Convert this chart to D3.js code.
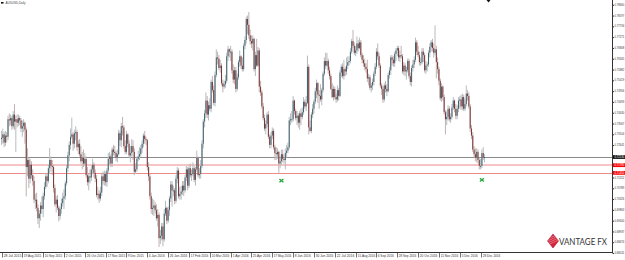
<!DOCTYPE html>
<html><head><meta charset="utf-8">
<script src="https://cdn.jsdelivr.net/npm/d3@7/dist/d3.min.js"></script>
<style>html,body{margin:0;padding:0;background:#fff;}svg{display:block;}</style>
</head><body>
<svg id="c" width="625" height="260"></svg>
<script>
// AUDUSD daily candles, prices in pips (x 1e-4), bar 0 = 28 Jul 2015
const opens=[7290,7295,7310,7275,7305,7300,7375,7370,7380,7345,
7395,7365,7375,7360,7380,7370,7335,7345,7360,7330,
7170,7200,7120,7180,7135,7110,7030,7030,6995,6950,
6970,7005,6990,7045,7085,7130,7110,7165,7200,7175,
7170,7080,7010,7030,6995,6960,6990,7015,7035,7045,
7100,7165,7220,7265,7300,7310,7270,7315,7320,7255,
7270,7225,7195,7210,7185,7205,7135,7105,7130,7125,
7160,7180,7145,7120,7050,7055,7035,7060,7130,7110,
7140,7105,7155,7205,7215,7185,7245,7235,7230,7210,
7225,7315,7285,7345,7340,7260,7235,7310,7270,7220,
7230,7260,7235,7150,7160,7205,7215,7225,7250,7270,
7305,7290,7285,7170,7130,7045,6990,6995,7005,6985,
6950,6965,6865,6875,6915,6860,6970,6995,6940,6985,
7035,7095,7070,7070,7025,7120,7155,7045,7055,7065,
7090,7070,7125,7160,7090,7165,7135,7140,7165,7115,
7160,7210,7135,7140,7175,7270,7365,7400,7455,7395,
7435,7420,7535,7500,7445,7565,7640,7635,7595,7605,
7530,7515,7525,7540,7645,7675,7665,7665,7585,7545,
7585,7505,7555,7620,7645,7605,7590,7690,7715,7805,
7780,7735,7710,7700,7720,7590,7650,7605,7670,7515,
7490,7430,7380,7335,7355,7395,7300,7265,7305,7325,
7255,7230,7225,7235,7185,7195,7225,7205,7200,7230,
7240,7255,7370,7375,7375,7455,7410,7380,7390,7360,
7400,7385,7405,7450,7430,7445,7600,7340,7325,7395,
7420,7450,7495,7530,7480,7475,7460,7500,7570,7625,
7605,7625,7585,7560,7505,7470,7505,7470,7460,7500,
7475,7575,7600,7560,7590,7580,7605,7620,7625,7665,
7710,7690,7660,7670,7700,7680,7705,7650,7630,7615,
7600,7590,7550,7555,7510,7520,7535,7570,7600,7665,
7645,7605,7520,7505,7460,7520,7505,7495,7565,7585,
7640,7630,7615,7655,7670,7680,7640,7650,7645,7580,
7605,7580,7585,7625,7560,7535,7595,7610,7630,7705,
7665,7650,7620,7620,7665,7650,7585,7605,7610,7660,
7685,7705,7680,7660,7675,7620,7590,7540,7465,7515,
7470,7405,7375,7385,7420,7375,7385,7425,7455,7420,
7390,7420,7455,7460,7430,7470,7420,7440,7485,7475,
7430,7335,7305,7245,7225,7210,7235,7200,7175,7175,
7230,7210];
const highs=[7325,7335,7320,7325,7320,7390,7400,7395,7390,7410,
7440,7390,7395,7395,7390,7380,7370,7375,7365,7340,
7250,7210,7205,7195,7160,7130,7055,7060,7010,6985,
7020,7045,7060,7105,7145,7140,7180,7251,7215,7200,
7180,7095,7045,7050,7005,7000,7035,7060,7075,7110,
7180,7235,7280,7335,7382,7320,7330,7345,7330,7285,
7290,7260,7235,7245,7230,7215,7170,7140,7160,7175,
7205,7190,7160,7135,7085,7070,7085,7140,7150,7155,
7150,7165,7230,7235,7225,7255,7265,7260,7240,7245,
7330,7325,7360,7385,7350,7285,7325,7315,7285,7260,
7290,7285,7250,7185,7215,7240,7255,7265,7285,7315,
7325,7300,7290,7190,7140,7060,7035,7030,7020,7010,
6990,6975,6900,6930,6930,6990,7025,7000,7000,7045,
7110,7110,7090,7080,7135,7170,7165,7085,7090,7110,
7110,7135,7175,7170,7180,7185,7160,7190,7175,7170,
7240,7215,7165,7200,7285,7375,7415,7490,7475,7450,
7465,7545,7560,7520,7580,7675,7665,7650,7630,7615,
7545,7540,7565,7660,7690,7680,7690,7675,7610,7600,
7600,7570,7630,7670,7650,7640,7700,7730,7815,7820,
7835,7760,7735,7735,7725,7665,7720,7685,7680,7540,
7500,7445,7395,7370,7405,7410,7310,7320,7340,7335,
7265,7255,7250,7240,7215,7245,7245,7215,7250,7265,
7275,7385,7400,7410,7475,7460,7420,7410,7400,7410,
7420,7425,7470,7460,7475,7648,7610,7370,7405,7440,
7460,7510,7545,7535,7500,7525,7510,7580,7640,7660,
7660,7635,7600,7570,7530,7520,7515,7485,7520,7510,
7585,7610,7615,7630,7600,7640,7645,7645,7680,7720,
7758,7705,7690,7730,7715,7725,7715,7660,7650,7635,
7615,7630,7570,7565,7530,7550,7580,7615,7680,7700,
7660,7615,7530,7515,7530,7540,7525,7575,7600,7650,
7650,7645,7665,7680,7690,7690,7670,7690,7655,7620,
7615,7600,7635,7635,7575,7605,7630,7645,7725,7715,
7690,7665,7640,7680,7680,7660,7625,7620,7670,7700,
7715,7720,7700,7778,7690,7640,7600,7550,7530,7520,
7480,7415,7410,7435,7430,7400,7440,7470,7460,7440,
7435,7470,7475,7480,7485,7480,7460,7520,7500,7490,
7440,7350,7320,7260,7250,7250,7245,7210,7205,7245,
7255,7225];
const lows=[7265,7270,7255,7260,7275,7285,7345,7350,7330,7335,
7330,7235,7340,7345,7350,7320,7300,7320,7270,7044,
7130,7080,7100,7120,7090,7015,6990,6980,6925,6908,
6940,6970,6955,7030,7075,7085,7100,7140,7150,7135,
7060,7000,6975,6985,6937,6945,6970,7000,6990,7030,
7090,7150,7195,7245,7290,7240,7250,7285,7240,7225,
7215,7185,7160,7170,7175,7125,7090,7070,7100,7110,
7140,7125,7105,7040,7030,7016,7025,7045,7095,7090,
7090,7085,7145,7180,7170,7170,7220,7215,7195,7190,
7220,7260,7255,7305,7250,7225,7225,7255,7210,7190,
7215,7200,7135,7140,7150,7195,7200,7215,7230,7255,
7270,7265,7155,7110,7030,6970,6965,6960,6970,6940,
6915,6827,6840,6855,6830,6850,6960,6925,6930,6960,
7020,7000,7045,7010,7015,7100,7035,7030,7030,7050,
7045,7060,7110,7070,7080,7125,7110,7130,7105,7090,
7150,7125,7120,7120,7165,7250,7340,7380,7380,7370,
7410,7405,7490,7435,7430,7555,7610,7585,7575,7520,
7490,7505,7510,7530,7625,7640,7625,7570,7530,7525,
7490,7495,7545,7600,7590,7580,7580,7675,7700,7740,
7720,7695,7680,7670,7580,7560,7600,7600,7490,7475,
7420,7370,7325,7310,7340,7290,7250,7250,7290,7245,
7200,7200,7205,7145,7165,7180,7190,7185,7160,7210,
7230,7245,7350,7360,7365,7395,7370,7350,7340,7330,
7350,7375,7395,7420,7410,7440,7310,7320,7315,7380,
7400,7440,7465,7445,7420,7450,7435,7490,7560,7590,
7600,7570,7545,7500,7465,7455,7460,7445,7450,7455,
7470,7555,7550,7545,7560,7565,7590,7605,7615,7655,
7680,7650,7645,7655,7665,7675,7640,7615,7600,7585,
7575,7535,7520,7500,7490,7500,7520,7560,7590,7630,
7595,7510,7480,7445,7450,7490,7475,7490,7550,7565,
7605,7600,7600,7625,7645,7625,7620,7635,7570,7565,
7560,7545,7575,7550,7520,7515,7580,7595,7620,7650,
7640,7605,7605,7610,7620,7575,7570,7580,7600,7640,
7665,7665,7640,7650,7550,7570,7520,7455,7450,7455,
7395,7310,7350,7370,7365,7360,7375,7415,7405,7375,
7375,7405,7420,7415,7415,7410,7410,7430,7455,7420,
7320,7290,7235,7210,7195,7190,7185,7160,7160,7165,
7200,7190];
const closes=[7295,7310,7275,7305,7300,7375,7370,7380,7345,7395,
7365,7375,7360,7380,7370,7335,7345,7360,7330,7170,
7200,7120,7180,7135,7110,7030,7030,6995,6950,6970,
7005,6990,7045,7085,7130,7110,7165,7200,7175,7170,
7080,7010,7030,6995,6960,6990,7015,7035,7045,7100,
7165,7220,7265,7300,7310,7270,7315,7320,7255,7270,
7225,7195,7210,7185,7205,7135,7105,7130,7125,7160,
7180,7145,7120,7050,7055,7035,7060,7130,7110,7140,
7105,7155,7205,7215,7185,7245,7235,7230,7210,7225,
7315,7285,7345,7340,7260,7235,7310,7270,7220,7230,
7260,7235,7150,7160,7205,7215,7225,7250,7270,7305,
7290,7285,7170,7130,7045,6990,6995,7005,6985,6950,
6965,6865,6875,6915,6860,6970,6995,6940,6985,7035,
7095,7070,7070,7025,7120,7155,7045,7055,7065,7090,
7070,7125,7160,7090,7165,7135,7140,7165,7115,7160,
7210,7135,7140,7175,7270,7365,7400,7455,7395,7435,
7420,7535,7500,7445,7565,7640,7635,7595,7605,7530,
7515,7525,7540,7645,7675,7665,7665,7585,7545,7585,
7505,7555,7620,7645,7605,7590,7690,7715,7805,7780,
7735,7710,7700,7720,7590,7650,7605,7670,7515,7490,
7430,7380,7335,7355,7395,7300,7265,7305,7325,7255,
7230,7225,7235,7185,7195,7225,7205,7200,7230,7240,
7255,7370,7375,7375,7455,7410,7380,7390,7360,7400,
7385,7405,7450,7430,7445,7600,7340,7325,7395,7420,
7450,7495,7530,7480,7475,7460,7500,7570,7625,7605,
7625,7585,7560,7505,7470,7505,7470,7460,7500,7475,
7575,7600,7560,7590,7580,7605,7620,7625,7665,7710,
7690,7660,7670,7700,7680,7705,7650,7630,7615,7600,
7590,7550,7555,7510,7520,7535,7570,7600,7665,7645,
7605,7520,7505,7460,7520,7505,7495,7565,7585,7640,
7630,7615,7655,7670,7680,7640,7650,7645,7580,7605,
7580,7585,7625,7560,7535,7595,7610,7630,7705,7665,
7650,7620,7620,7665,7650,7585,7605,7610,7660,7685,
7705,7680,7660,7675,7620,7590,7540,7465,7515,7470,
7405,7375,7385,7420,7375,7385,7425,7455,7420,7390,
7420,7455,7460,7430,7470,7420,7440,7485,7475,7430,
7335,7305,7245,7225,7210,7235,7200,7175,7175,7230,
7210,7213];

const title="AUDUSD,Daily";
const dateLabels=["28 Jul 2015","19 Aug 2015","10 Sep 2015","2 Oct 2015","26 Oct 2015","17 Nov 2015","9 Dec 2015","4 Jan 2016","26 Jan 2016","17 Feb 2016","10 Mar 2016","1 Apr 2016","25 Apr 2016","17 May 2016","8 Jun 2016","30 Jun 2016","22 Jul 2016","15 Aug 2016","6 Sep 2016","28 Sep 2016","20 Oct 2016","11 Nov 2016","5 Dec 2016","28 Dec 2016"];
const dateLabelBars=[0,16,32,48,64,80,96,112,128,144,160,176,192,208,224,240,256,272,288,304,320,336,352,368];
const priceTicks=[0.78660,0.78197,0.77734,0.77271,0.76808,0.76345,0.75882,0.75419,0.74956,0.74493,0.74030,0.73567,0.73104,0.72641,0.71252,0.70789,0.70326,0.69863,0.69400,0.68937,0.68474,0.68011];
const levelPrices=[0.72130,0.71780,0.71450];
const levelKinds=["bid","zone","zone2"];
const markerBars=[215,369];
const markerPrices=[0.71120,0.71150];
const logoText="VANTAGE FX";

const svg=d3.select("#c");
svg.append("rect").attr("width",625).attr("height",260).attr("fill","#fff");

const x=d3.scaleLinear().domain([0,371]).range([1.5,484.5]);
const y=d3.scaleLinear().domain([0.6827,0.7835]).range([247,12]);
const P=v=>v/10000;
const font="'Liberation Sans', Arial, sans-serif";
const S=0.4; // tiny text is drawn large and scaled down (avoids minimum font size)
function tinyText(parent,tx,ty,str,size,fill,len,anchorMid){
  const t=parent.append("g").attr("transform",`translate(${tx},${ty}) scale(${S})`)
    .append("text").attr("x",0).attr("y",0).attr("font-size",(size/S)+"px")
    .attr("font-family",font).attr("fill",fill).text(str);
  if(anchorMid) t.attr("dy","0.35em");
  if(len) t.attr("textLength",len/S).attr("lengthAdjust","spacingAndGlyphs");
  return t;
}

// level lines (behind candles)
const lvlColor={bid:"#8a8a8a",zone:"#f6c4c4",zone2:"#ee8a8a"};
const lvlW={bid:1,zone:2,zone2:1};
const lv=svg.append("g");
levelPrices.forEach((p,i)=>{
  const k=levelKinds[i];
  const yy=Math.round(y(p))+(lvlW[k]===1?0.5:0);
  lv.append("line").attr("x1",0).attr("x2",612).attr("y1",yy).attr("y2",yy)
    .attr("stroke",lvlColor[k]).attr("stroke-width",lvlW[k]);
});

// candles
const bars=d3.range(closes.length).map(i=>({i,o:P(opens[i]),h:P(highs[i]),l:P(lows[i]),c:P(closes[i])}));
const g=svg.append("g");
g.selectAll("line.w").data(bars).join("line").attr("class","w")
  .attr("x1",d=>x(d.i)).attr("x2",d=>x(d.i))
  .attr("y1",d=>y(d.h)).attr("y2",d=>y(d.l))
  .attr("stroke",d=>d.c>=d.o?"#b4bcc0":"#c2b2b2").attr("stroke-width",1);
g.selectAll("rect.b").data(bars).join("rect").attr("class","b")
  .attr("x",d=>x(d.i)-0.5).attr("width",1)
  .attr("y",d=>y(Math.max(d.o,d.c)))
  .attr("height",d=>Math.max(1,Math.abs(y(d.o)-y(d.c))))
  .attr("fill",d=>d.c>=d.o?"#41606c":"#7a3434");

// markers
markerBars.forEach((b,i)=>{
  const cx=x(b), cy=y(markerPrices[i]);
  const m=svg.append("g").attr("stroke","#22a83a").attr("stroke-width",1.3);
  m.append("line").attr("x1",cx-2).attr("y1",cy-1.6).attr("x2",cx+2).attr("y2",cy+1.6);
  m.append("line").attr("x1",cx-2).attr("y1",cy+1.6).attr("x2",cx+2).attr("y2",cy-1.6);
});

// axes frame
svg.append("line").attr("x1",612.5).attr("x2",612.5).attr("y1",0).attr("y2",253).attr("stroke","#333").attr("stroke-width",1);
svg.append("line").attr("x1",0).attr("x2",613).attr("y1",252.5).attr("y2",252.5).attr("stroke","#333").attr("stroke-width",1);

// right price axis (ticks via d3 axis, labels as tiny scaled text)
const ya=svg.append("g").attr("transform","translate(612.5,0)")
  .call(d3.axisRight(y).tickValues(priceTicks).tickSize(1.5).tickFormat(""));
ya.select(".domain").remove();
ya.selectAll("line").attr("stroke","#333");
const fmt=d3.format(".5f");
priceTicks.forEach(p=>tinyText(svg,614.5,y(p),fmt(p),3.2,"#333",9.8,true));

// price boxes
const boxFill={bid:"#111",zone:"#f00",zone2:"#f00"};
levelPrices.forEach((p,i)=>{
  const yy=y(p);
  svg.append("rect").attr("x",613).attr("y",yy-1.9).attr("width",12).attr("height",3.8).attr("fill",boxFill[levelKinds[i]]);
  tinyText(svg,614.5,yy,fmt(p),3.2,"#fff",9.8,true);
});

// bottom date axis
const xa=svg.append("g");
dateLabelBars.forEach((b,i)=>{
  const xx=Math.round(x(b))+0.5;
  xa.append("line").attr("x1",xx).attr("x2",xx).attr("y1",253).attr("y2",257.5).attr("stroke","#333").attr("stroke-width",0.7);
  tinyText(xa,xx+1.2,257.2,dateLabels[i],3.3,"#333",dateLabels[i].length*1.6,false);
});

// title
svg.append("rect").attr("x",1).attr("y",2).attr("width",2.5).attr("height",1.6).attr("fill","#111");
tinyText(svg,5.5,4.2,title,3.4,"#444",20,false);

// chart shift marker
svg.append("path").attr("d","M486.5,0 L490.5,0 L488.5,2.5 Z").attr("fill","#111");

// logo
const lg=svg.append("g");
lg.append("path").attr("d","M553,234 L558.5,241 L553,248 L547.5,241 Z").attr("fill","#d4233a");
[-4,-2,0,2,4].forEach(o=>{
  lg.append("line").attr("x1",547.5).attr("y1",241+o).attr("x2",558.5).attr("y2",241+o-5)
    .attr("stroke","#fff").attr("stroke-width",0.5).attr("opacity",0.7);
});
lg.append("path").attr("d","M553,234 L558.5,241 L553,248 L547.5,241 Z").attr("fill","none").attr("stroke","#b01830").attr("stroke-width",0.6);
const lt=lg.append("g").attr("transform","translate(559,245) scale(0.82,1)")
  .append("text").attr("x",0).attr("y",0).attr("font-size","9.5px").attr("font-family","Lato, 'Open Sans', sans-serif")
  .attr("fill","#333").text(logoText);
// fit the logo word into 48px (stays left of the price axis)
const w=lt.node().getComputedTextLength();
if(w>0) lt.attr("textLength",48/0.82).attr("lengthAdjust","spacingAndGlyphs");
</script>
</body></html>
